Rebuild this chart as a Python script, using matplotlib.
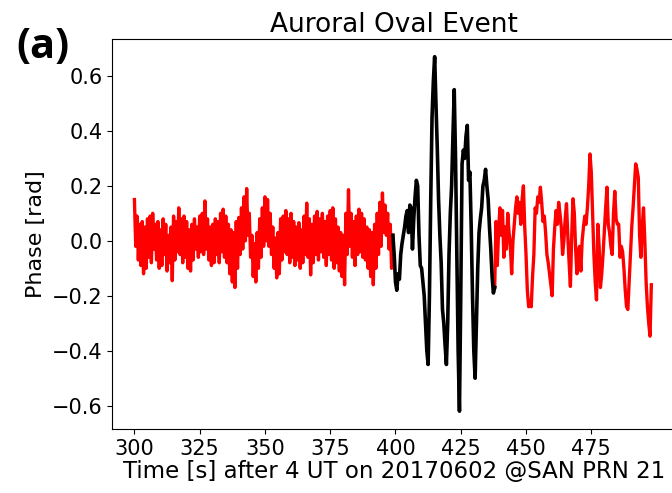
import numpy as np
import matplotlib.pyplot as plt

# quiet part before the event: upper / lower edge of the fast noise, one pair per second (300..398 s)
quiet_hi = [0.15, 0.09, 0.06, 0.07, 0.05, 0.08, 0.09, 0.10, 0.06, 0.07,
            0.04, 0.08, 0.06, 0.02, 0.05, 0.09, 0.07, 0.12, 0.08, 0.09,
            0.07, 0.04, 0.06, 0.08, 0.05, 0.09, 0.10, 0.145, 0.08, 0.05,
            0.06, 0.08, 0.07, 0.10, 0.115, 0.09, 0.06, 0.04, 0.03, 0.07,
            0.085, 0.12, 0.16, 0.19, 0.10, 0.02, -0.01, 0.03, 0.08, 0.12,
            0.16, 0.15, 0.10, 0.05, 0.01, 0.03, 0.08, 0.09, 0.11, 0.08,
            0.10, 0.07, 0.05, 0.066, 0.04, 0.09, 0.137, 0.08, 0.06, 0.09,
            0.107, 0.08, 0.10, 0.07, 0.09, 0.11, 0.12, 0.08, 0.05, 0.03,
            0.02, 0.10, 0.186, 0.10, 0.07, 0.09, 0.115, 0.10, 0.08, 0.05,
            0.04, 0.03, 0.06, 0.10, 0.14, 0.174, 0.13, 0.10, 0.06]
quiet_lo = [-0.02, -0.07, -0.09, -0.12, -0.10, -0.06, -0.08, -0.03, -0.07, -0.10,
            -0.09, -0.05, -0.11, -0.08, -0.145, -0.07, -0.04, -0.05, -0.08, -0.06,
            -0.10, -0.11, -0.07, -0.03, -0.06, -0.04, -0.05, -0.03, -0.07, -0.09,
            -0.08, -0.05, -0.08, -0.04, -0.06, -0.08, -0.12, -0.15, -0.17, -0.10,
            -0.05, -0.03, 0.00, 0.02, -0.06, -0.13, -0.15, -0.10, -0.06, -0.02,
            0.00, -0.02, -0.05, -0.10, -0.135, -0.12, -0.07, -0.04, -0.05, -0.08,
            -0.06, -0.09, -0.07, -0.10, -0.08, -0.05, -0.06, -0.124, -0.08, -0.05,
            -0.07, -0.04, -0.06, -0.09, -0.05, -0.07, -0.10, -0.08, -0.11, -0.13,
            -0.16, -0.05, -0.02, -0.06, -0.09, -0.05, -0.04, -0.06, -0.07, -0.10,
            -0.13, -0.16, -0.10, -0.05, -0.02, 0.03, 0.02, -0.03, -0.10]

# event (black), every 0.5 s from 399 to 438 s
event = [0.02, -0.05, -0.15, -0.18, -0.12, -0.14, -0.05, -0.01, 0.02, 0.05,
         0.09, 0.11, 0.03, 0.13, 0.12, -0.03, 0.08, 0.16, 0.22, 0.20,
         0.02, -0.09, -0.10, -0.15, -0.20, -0.30, -0.40, -0.45, -0.20, 0.15,
         0.45, 0.58, 0.67, 0.50, 0.34, 0.15, 0.02, -0.08, -0.25, -0.30,
         -0.38, -0.45, -0.30, -0.05, 0.10, 0.20, 0.38, 0.55, 0.30, -0.05,
         -0.40, -0.62, -0.20, 0.28, 0.33, 0.30, 0.38, 0.42, 0.22, 0.25,
         0.05, -0.20, -0.40, -0.50, -0.30, -0.10, 0.03, 0.08, 0.12, 0.20,
         0.22, 0.26, 0.20, 0.15, 0.05, -0.03, -0.13, -0.19, -0.17]

# after the event, every 0.5 s from 438.5 to 498 s
after = [0.07, -0.09, 0.04, 0.12, 0.02, 0.11, -0.06, 0.05, -0.03, 0.10,
         0.03, -0.02, -0.12, 0.00, 0.06, 0.12, 0.16, 0.10, 0.14, 0.06,
         0.15, 0.20, 0.05, -0.05, -0.18, -0.24, -0.22, -0.24, -0.13, -0.05,
         0.12, 0.10, 0.16, 0.14, 0.195, 0.14, 0.07, 0.09, 0.03, -0.05,
         -0.08, -0.12, -0.16, -0.20, -0.03, 0.05, 0.11, 0.06, 0.14, 0.10,
         0.05, -0.05, 0.00, 0.08, 0.135, 0.02, -0.08, -0.166, 0.02, 0.153,
         0.10, -0.03, -0.12, -0.04, -0.02, -0.11, 0.00, 0.05, 0.09, 0.06,
         0.12, 0.20, 0.316, 0.25, 0.10, -0.05, -0.15, -0.215, 0.06, -0.02,
         -0.17, -0.12, -0.05, 0.035, 0.12, 0.195, 0.06, 0.03, -0.02, -0.05,
         0.10, 0.18, 0.08, 0.06, 0.06, -0.06, -0.02, -0.04, -0.10, -0.18,
         -0.24, -0.25, -0.15, -0.05, 0.05, 0.12, 0.20, 0.28, 0.26, 0.23,
         0.02, -0.06, 0.05, 0.12, 0.00, -0.15, -0.24, -0.30, -0.347, -0.16]

t_start = 300.0
dt = 0.5
event_start, event_end = 399.0, 438.0

quiet = np.column_stack([quiet_hi, quiet_lo]).ravel()
phase = np.concatenate([quiet, event, after])
t = t_start + dt * np.arange(len(phase))

plt.rcParams['font.size'] = 15
fig = plt.figure(figsize=(6.72, 4.93), dpi=100)
ax = fig.add_axes([0.167, 0.130, 0.838, 0.791])

pre = t <= event_start
mid = (t >= event_start) & (t <= event_end)
post = t >= event_end
ax.plot(t[pre], phase[pre], color='red', lw=2.4)
ax.plot(t[post], phase[post], color='red', lw=2.4)
ax.plot(t[mid], phase[mid], color='black', lw=2.6)

ax.set_xlim(291.5, 507.2)
ax.set_xticks([300, 325, 350, 375, 400, 425, 450, 475])
ax.set_yticks([-0.6, -0.4, -0.2, 0.0, 0.2, 0.4, 0.6])
ax.set_title('Auroral Oval Event', fontsize=19, pad=5)
ax.set_xlabel('Time [s] after 4 UT on 20170602 @SAN PRN 21', fontsize=16.5, labelpad=1)
ax.set_ylabel('Phase [rad]', fontsize=16)

fig.text(0.024, 0.882, '(a)', fontsize=30, fontweight='bold',
         family=['Open Sans', 'DejaVu Sans'])

fig.savefig('out.png', dpi=100)
